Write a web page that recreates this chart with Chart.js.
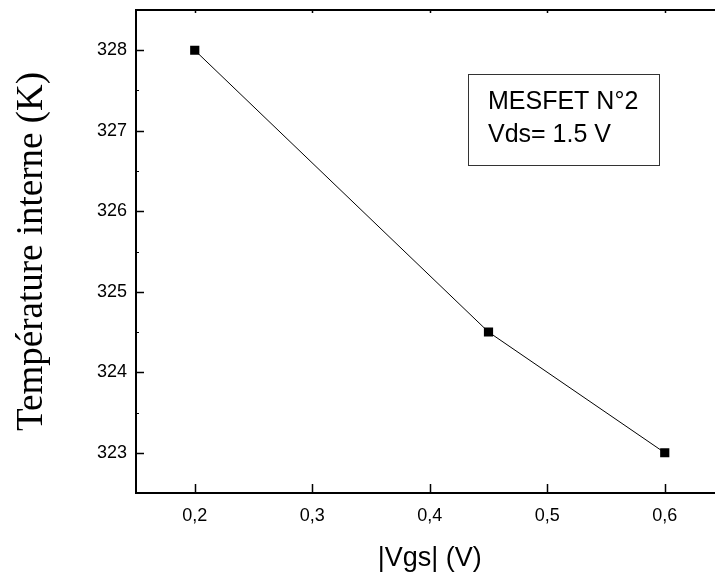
<!DOCTYPE html>
<html>
<head>
<meta charset="utf-8">
<title>Température interne vs |Vgs|</title>
<script src="https://cdn.jsdelivr.net/npm/chart.js@4.4.1/dist/chart.umd.min.js"></script>
<style>
  html, body { margin: 0; padding: 0; background: #fff; overflow: hidden; }
  #wrap { width: 730px; height: 577px; }
</style>
</head>
<body>
<div id="wrap"><canvas id="tempChart" width="730" height="577"></canvas></div>
<script>
// ===== DONNEES =====
const vgsValues = [0.2, 0.45, 0.6];
const tempValues = [328, 324.5, 323];
const xTickValues = [0.2, 0.3, 0.4, 0.5, 0.6];
const yTickValues = [323, 324, 325, 326, 327, 328];
const legendLines = ["MESFET N°2", "Vds= 1.5 V"];

const sans = "'Liberation Sans', Arial, sans-serif";
const serif = "'Liberation Serif', 'Times New Roman', serif";

// ===== CADRE + TICKS VERS L'INTERIEUR + ENCADRE =====
const framePlugin = {
  id: "frame",
  afterDraw(chart) {
    const { ctx, chartArea: a, scales } = chart;
    const xs = scales.x, ys = scales.y;
    ctx.save();
    ctx.strokeStyle = "#000";
    ctx.lineWidth = 2;
    ctx.strokeRect(a.left, a.top, a.right - a.left, a.bottom - a.top);

    ctx.lineWidth = 1.5;
    ctx.beginPath();
    xTickValues.forEach((v) => {
      const px = Math.round(xs.getPixelForValue(v)) + 0.5;
      ctx.moveTo(px, a.bottom);
      ctx.lineTo(px, a.bottom - 9);
      ctx.moveTo(px, a.top);
      ctx.lineTo(px, a.top + 3);
    });
    yTickValues.forEach((v) => {
      const py = Math.round(ys.getPixelForValue(v)) + 0.5;
      ctx.moveTo(a.left, py);
      ctx.lineTo(a.left + 8, py);
      ctx.moveTo(a.right, py);
      ctx.lineTo(a.right - 8, py);
    });
    ctx.stroke();

    // ticks mineurs (petits)
    ctx.lineWidth = 1;
    ctx.beginPath();
    yTickValues.forEach((v) => {
      const py = Math.round(ys.getPixelForValue(v + 0.5)) + 0.5;
      ctx.moveTo(a.left, py);
      ctx.lineTo(a.left + 3, py);
    });
    ctx.stroke();

    // encadré légende
    ctx.strokeStyle = "#333";
    ctx.lineWidth = 1;
    ctx.fillStyle = "#fff";
    ctx.fillRect(468.5, 74.5, 191, 91);
    ctx.strokeRect(468.5, 74.5, 191, 91);
    ctx.fillStyle = "#000";
    ctx.font = "25px " + sans;
    ctx.textBaseline = "middle";
    ctx.textAlign = "left";
    legendLines.forEach((t, i) => {
      ctx.fillText(t, 488, 102 + i * 33);
    });
    ctx.restore();
  },
};

const ctx = document.getElementById("tempChart").getContext("2d");
new Chart(ctx, {
  type: "scatter",
  data: {
    datasets: [
      {
        data: vgsValues.map((v, i) => ({ x: v, y: tempValues[i] })),
        showLine: true,
        borderColor: "#000",
        borderWidth: 1,
        backgroundColor: "#000",
        pointStyle: "rect",
        pointRadius: 6.5,
        pointBorderWidth: 0,
        pointBackgroundColor: "#000",
      },
    ],
  },
  options: {
    responsive: false,
    animation: false,
    layout: { padding: { left: 0, top: 10, right: 6.5, bottom: 0 } },
    plugins: {
      legend: { display: false },
      tooltip: { enabled: false },
    },
    scales: {
      x: {
        type: "linear",
        min: 0.15,
        max: 0.65,
        grid: { display: false, drawTicks: false },
        border: { display: false },
        afterBuildTicks: (s) => {
          s.ticks = xTickValues.map((v) => ({ value: v }));
        },
        afterFit: (s) => {
          s.height = 84;
        },
        ticks: {
          padding: 12,
          color: "#000",
          font: { family: sans, size: 18 },
          callback: (v) => v.toFixed(1).replace(".", ","),
        },
        title: {
          display: true,
          text: "|Vgs| (V)",
          color: "#000",
          font: { family: sans, size: 27 },
          padding: { top: 0, bottom: 2 },
        },
      },
      y: {
        type: "linear",
        min: 322.5,
        max: 328.5,
        grid: { display: false, drawTicks: false },
        border: { display: false },
        afterBuildTicks: (s) => {
          s.ticks = yTickValues.map((v) => ({ value: v }));
        },
        afterFit: (s) => {
          s.width = 136;
          s.paddingTop = 0;
          s.paddingBottom = 0;
        },
        ticks: {
          padding: 9,
          color: "#000",
          font: { family: sans, size: 18 },
        },
        title: {
          display: true,
          text: "Température interne (K)",
          color: "#000",
          font: { family: serif, size: 37 },
          padding: { top: 10, bottom: 0 },
        },
      },
    },
  },
  plugins: [framePlugin],
});
</script>
</body>
</html>
